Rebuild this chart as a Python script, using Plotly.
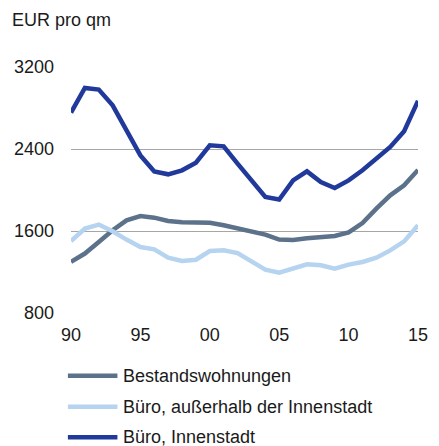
import plotly.graph_objects as go

years = list(range(1990, 2016))
bestand = [1300, 1380, 1493, 1607, 1704, 1746, 1730, 1698, 1685, 1681, 1681, 1656, 1629, 1600, 1565, 1516,
           1513, 1529, 1545, 1551, 1587, 1678, 1818, 1948, 2046, 2195]
aussen = [1502, 1624, 1663, 1597, 1516, 1444, 1421, 1340, 1307, 1320, 1405, 1411, 1385, 1298, 1223, 1194,
          1239, 1275, 1265, 1233, 1272, 1298, 1340, 1411, 1499, 1656]
innen = [2755, 2995, 2980, 2826, 2582, 2338, 2182, 2153, 2192, 2267, 2436, 2426, 2257, 2094, 1932, 1907,
         2094, 2182, 2078, 2020, 2094, 2192, 2306, 2420, 2573, 2870]
names = ["Bestandswohnungen", "Büro, außerhalb der Innenstadt", "Büro, Innenstadt"]
colors = ["#5b728a", "#b6d4f0", "#20399a"]
xtickvals = [1990, 1995, 2000, 2005, 2010, 2015]
xticktext = ["90", "95", "00", "05", "10", "15"]
ytickvals = [800, 1600, 2400, 3200]

FONT = "Liberation Sans, Arial, sans-serif"
fig = go.Figure()
for s, n, c in zip([bestand, aussen, innen], names, colors):
    fig.add_trace(go.Scatter(x=years, y=s, name=n, mode="lines",
                             line=dict(color=c, width=4.5), showlegend=False))

# plot area in pixels
L, R, T, B = 70.7, 428.0, 66.7, 312.7
W, H = 439, 446
def px(x):
    return (x - L) / (R - L)
def py(y):
    return (B - y) / (B - T)

shapes = []
annotations = []
leg_y = [375.5, 406.5, 437.0]
for n, c, yy in zip(names, colors, leg_y):
    shapes.append(dict(type="line", xref="paper", yref="paper", x0=px(67.5), x1=px(118.5), y0=py(yy), y1=py(yy),
                       line=dict(color=c, width=4.5), layer="above"))
    annotations.append(dict(text=n, xref="paper", yref="paper", x=px(122), y=py(yy), xanchor="left",
                            yanchor="middle", showarrow=False, font=dict(family=FONT, size=18, color="#1a1a1a")))
annotations.append(dict(text="EUR pro qm", xref="paper", yref="paper", x=px(8), y=py(20), xanchor="left",
                        yanchor="middle", showarrow=False, font=dict(family=FONT, size=18, color="#1a1a1a")))

fig.update_layout(
    width=W, height=H,
    margin=dict(l=L, r=W - R, t=T, b=H - B, pad=0),
    paper_bgcolor="white", plot_bgcolor="white",
    font=dict(family=FONT, size=18, color="#1a1a1a"),
    shapes=shapes, annotations=annotations,
    xaxis=dict(range=[1990, 2015], tickvals=xtickvals, ticktext=xticktext, showgrid=False, zeroline=False,
               showline=False, ticks="", ticklabelstandoff=9, tickfont=dict(size=18)),
    yaxis=dict(range=[800, 3200], tickvals=ytickvals, showgrid=True, gridcolor="#a6a6a6", gridwidth=1.2,
               zeroline=False, showline=False, ticks="", ticklabelstandoff=16, tickfont=dict(size=18)),
)
fig.write_html("out.html", config={"displayModeBar": False},
               post_script="document.body.style.margin='0';document.body.style.overflow='hidden';")
